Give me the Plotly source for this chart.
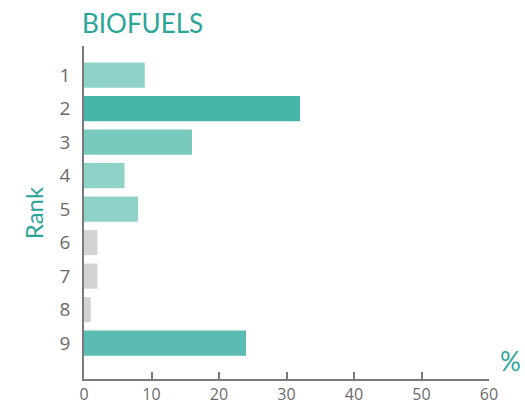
import plotly.graph_objects as go

# Biofuels share by rank
ranks = [1, 2, 3, 4, 5, 6, 7, 8, 9]
values = [9, 32, 16, 6, 8, 2, 2, 1, 24]
bar_colors = ["#8fd3c8", "#48b5aa", "#78cabf", "#8fd3c8", "#8fd3c8",
              "#d3d3d3", "#d3d3d3", "#d3d3d3", "#5bbdb2"]
x_ticks = [0, 10, 20, 30, 40, 50, 60]

teal = "#2aa598"
grey = "#6b6b6b"

fig = go.Figure()
fig.add_trace(go.Bar(
    x=values, y=ranks, orientation="h",
    marker=dict(color=bar_colors, line=dict(width=0)),
    width=0.75, hoverinfo="x+y",
))

fig.update_layout(
    width=525, height=405,
    margin=dict(l=84, r=36, t=46, b=26),
    plot_bgcolor="white", paper_bgcolor="white",
    showlegend=False,
    font=dict(family="Open Sans", color=grey),
    title=dict(text="BIOFUELS", x=82 / 525, xanchor="left", y=0.94, yanchor="middle",
               font=dict(family="Lato", size=26, color=teal)),
    annotations=[
        dict(text="Rank", xref="paper", yref="paper", x=-0.165, y=0.5,
             textangle=-90, showarrow=False,
             font=dict(family="Lato", size=24, color=teal)),
        dict(text="%", xref="paper", yref="paper", x=1.022, y=0.0,
             xanchor="left", yanchor="bottom", showarrow=False,
             font=dict(family="Lato", size=26, color=teal)),
    ],
)

fig.update_xaxes(
    range=[0, 60], tickvals=x_ticks, showgrid=False, zeroline=False,
    showline=True, linecolor="#7a7a7a", linewidth=1.5,
    ticks="inside", ticklen=7, tickcolor="#7a7a7a", tickwidth=1.5,
    tickfont=dict(size=16, color=grey), fixedrange=True, automargin=False,
)
fig.update_yaxes(
    range=[10.07, 0.13], tickvals=ranks, showgrid=False, zeroline=False,
    showline=True, linecolor="#7a7a7a", linewidth=1.5,
    ticks="", ticklabelstandoff=8,
    tickfont=dict(size=19, color=grey), fixedrange=True, automargin=False,
)

fig.write_html("out.html", config={"displayModeBar": False},
               post_script="document.body.style.margin='0';")
